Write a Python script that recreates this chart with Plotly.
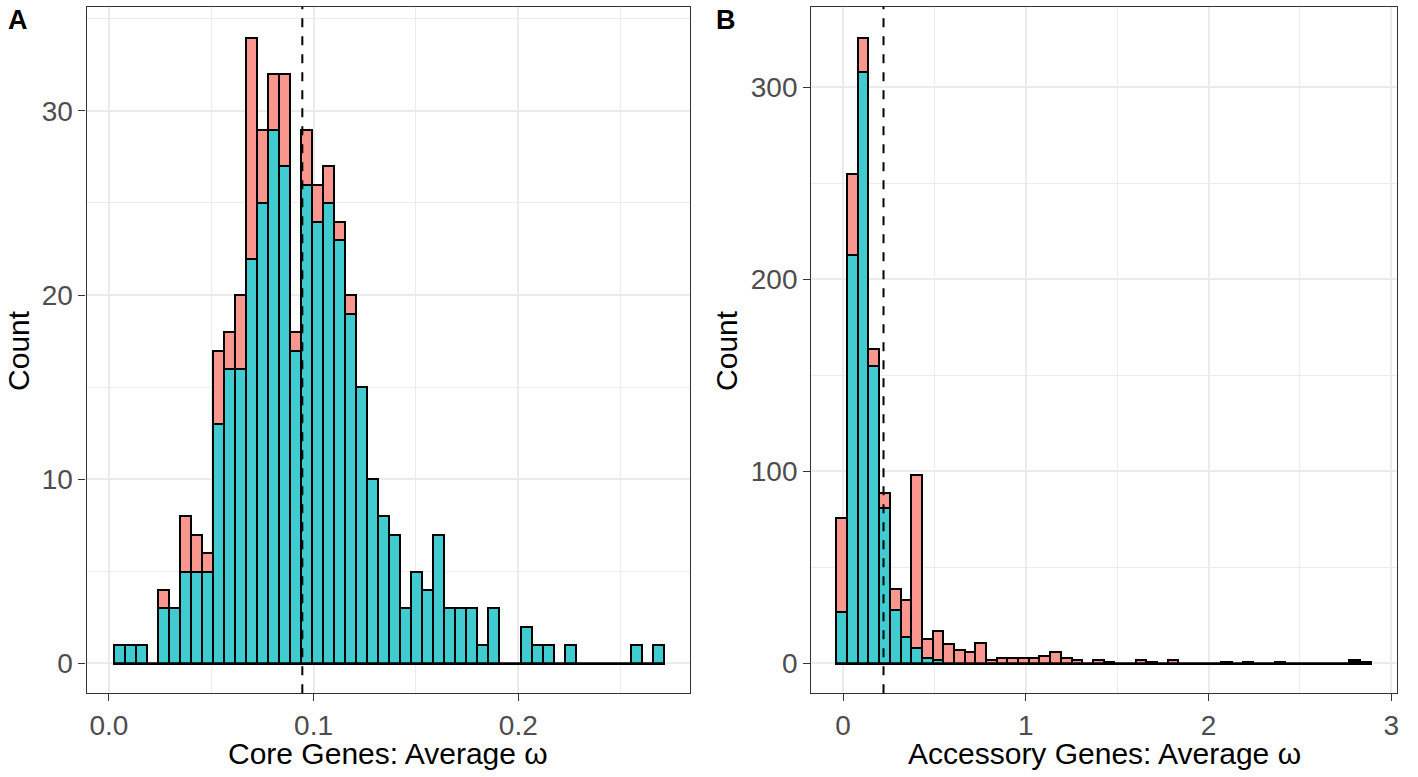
import numpy as np
import plotly.graph_objects as go

W, H = 1418, 777

# ---------------- data ----------------
# Panel A: Core genes, 50 bins
core_bin_start = 0.0021
core_bin_width = 0.005373
core_teal = [1, 1, 1, 0, 3, 3, 5, 5, 5, 13, 16, 16, 22, 25, 29, 27, 17, 26, 24, 25,
             23, 19, 15, 10, 8, 7, 3, 5, 4, 7, 3, 3, 3, 1, 3, 0, 0, 2, 1, 1,
             0, 1, 0, 0, 0, 0, 0, 1, 0, 1]
core_red = [0, 0, 0, 0, 1, 0, 3, 2, 1, 4, 2, 4, 12, 4, 3, 5, 1, 3, 2, 2,
            1, 1, 0, 0, 0, 0, 0, 0, 0, 0, 0, 0, 0, 0, 0, 0, 0, 0, 0, 0,
            0, 0, 0, 0, 0, 0, 0, 0, 0, 0]
core_mean = 0.0945

# Panel B: Accessory genes, 50 bins
acc_bin_start = -0.036
acc_bin_width = 0.0585
acc_teal = [27, 213, 308, 155, 81, 28, 14, 8, 3, 2, 0, 0, 0, 0, 0, 0, 0, 0, 0, 0,
            0, 0, 0, 0, 0, 0, 0, 0, 0, 0, 0, 0, 0, 0, 0, 0, 0, 0, 0, 0,
            0, 0, 0, 0, 0, 0, 0, 0, 1, 0]
acc_red = [49, 42, 18, 9, 8, 11, 19, 90, 10, 15, 10, 7, 6, 11, 2, 3, 3, 3, 3, 4,
           6, 3, 2, 0, 2, 1, 0, 0, 2, 1, 0, 2, 0, 0, 0, 0, 1, 0, 1, 0,
           0, 1, 0, 0, 0, 0, 0, 0, 1, 1]
acc_mean = 0.221

core_xticks = [0.0, 0.1, 0.2]
core_xticklabels = ["0.0", "0.1", "0.2"]
core_yticks = [0, 10, 20, 30]
acc_xticks = [0, 1, 2, 3]
acc_yticks = [0, 100, 200, 300]

RED = "#F9978F"
TEAL = "#3FCBCF"
FONT = "Liberation Sans"


def centers(start, width, n):
    return start + width / 2 + width * np.arange(n)


cx = centers(core_bin_start, core_bin_width, len(core_teal))
ax_ = centers(acc_bin_start, acc_bin_width, len(acc_teal))

fig = go.Figure()

bar_line = dict(color="black", width=2)
fig.add_trace(go.Bar(x=cx, y=core_teal, width=core_bin_width, marker=dict(color=TEAL, line=bar_line),
                     xaxis="x", yaxis="y", showlegend=False))
fig.add_trace(go.Bar(x=cx, y=core_red, width=core_bin_width, marker=dict(color=RED, line=bar_line),
                     xaxis="x", yaxis="y", showlegend=False))
fig.add_trace(go.Scatter(x=[core_bin_start, core_bin_start + core_bin_width * len(core_teal)], y=[0, 0],
                         mode="lines", line=dict(color="black", width=2), xaxis="x", yaxis="y",
                         showlegend=False, hoverinfo="skip"))

fig.add_trace(go.Bar(x=ax_, y=acc_teal, width=acc_bin_width, marker=dict(color=TEAL, line=bar_line),
                     xaxis="x2", yaxis="y2", showlegend=False))
fig.add_trace(go.Bar(x=ax_, y=acc_red, width=acc_bin_width, marker=dict(color=RED, line=bar_line),
                     xaxis="x2", yaxis="y2", showlegend=False))
fig.add_trace(go.Scatter(x=[acc_bin_start, acc_bin_start + acc_bin_width * len(acc_teal)], y=[0, 0],
                         mode="lines", line=dict(color="black", width=2), xaxis="x2", yaxis="y2",
                         showlegend=False, hoverinfo="skip"))


def px_x(p):
    return p / W


def px_y(p):
    return 1 - p / H


axis_common = dict(
    showline=True, mirror=True, linecolor="#333333", linewidth=1.2,
    ticks="outside", ticklen=7, tickwidth=1.3, tickcolor="#333333",
    showgrid=True, gridcolor="#EBEBEB", gridwidth=1.6,
    zeroline=False,
    tickfont=dict(family=FONT, size=28, color="#4D4D4D"),
)

ydom = [px_y(693.3), px_y(6.7)]

fig.update_layout(
    width=W, height=H,
    margin=dict(l=0, r=0, t=0, b=0),
    paper_bgcolor="white", plot_bgcolor="white",
    barmode="stack", bargap=0,
    xaxis=dict(domain=[px_x(86.7), px_x(691)], range=[-0.0109, 0.2839],
               tickvals=core_xticks, ticktext=core_xticklabels,
               minor=dict(showgrid=True, dtick=0.05, tick0=0, gridcolor="#EBEBEB", gridwidth=0.8),
               anchor="y", **axis_common),
    yaxis=dict(domain=ydom, range=[-1.63, 35.66], tickvals=core_yticks,
               minor=dict(showgrid=True, dtick=5, tick0=0, gridcolor="#EBEBEB", gridwidth=0.8),
               anchor="x", **axis_common),
    xaxis2=dict(domain=[px_x(812.3), px_x(1399.3)], range=[-0.175, 3.033],
                tickvals=acc_xticks,
                minor=dict(showgrid=True, dtick=0.5, tick0=0, gridcolor="#EBEBEB", gridwidth=0.8),
                anchor="y2", **axis_common),
    yaxis2=dict(domain=ydom, range=[-15.6, 341.9], tickvals=acc_yticks,
                minor=dict(showgrid=True, dtick=50, tick0=0, gridcolor="#EBEBEB", gridwidth=0.8),
                anchor="x2", **axis_common),
)

dash = "9px,9px"
fig.add_shape(type="line", xref="x", yref="y domain", x0=core_mean, x1=core_mean, y0=0, y1=1,
              line=dict(color="black", width=2, dash=dash))
fig.add_shape(type="line", xref="x2", yref="y2 domain", x0=acc_mean, x1=acc_mean, y0=0, y1=1,
              line=dict(color="black", width=2, dash=dash))

title_font = dict(family=FONT, size=30, color="black")
ann = [
    dict(text="<b>A</b>", x=px_x(6), y=px_y(20), xanchor="left", yanchor="middle",
         font=dict(family=FONT, size=27, color="black")),
    dict(text="<b>B</b>", x=px_x(715.5), y=px_y(20), xanchor="left", yanchor="middle",
         font=dict(family=FONT, size=27, color="black")),
    dict(text="Count", x=px_x(19), y=(ydom[0] + ydom[1]) / 2, textangle=-90,
         xanchor="center", yanchor="middle", font=title_font),
    dict(text="Count", x=px_x(728), y=(ydom[0] + ydom[1]) / 2, textangle=-90,
         xanchor="center", yanchor="middle", font=title_font),
    dict(text="Core Genes: Average ω", x=px_x((86.7 + 691) / 2), y=px_y(753),
         xanchor="center", yanchor="middle", font=title_font),
    dict(text="Accessory Genes: Average ω", x=px_x((812.3 + 1399.3) / 2), y=px_y(753),
         xanchor="center", yanchor="middle", font=title_font),
]
for a in ann:
    a.update(xref="paper", yref="paper", showarrow=False)
fig.update_layout(annotations=ann)

fig.write_html("out.html", config={"displayModeBar": False},
               post_script="document.body.style.margin='0';document.body.style.overflow='hidden';")
